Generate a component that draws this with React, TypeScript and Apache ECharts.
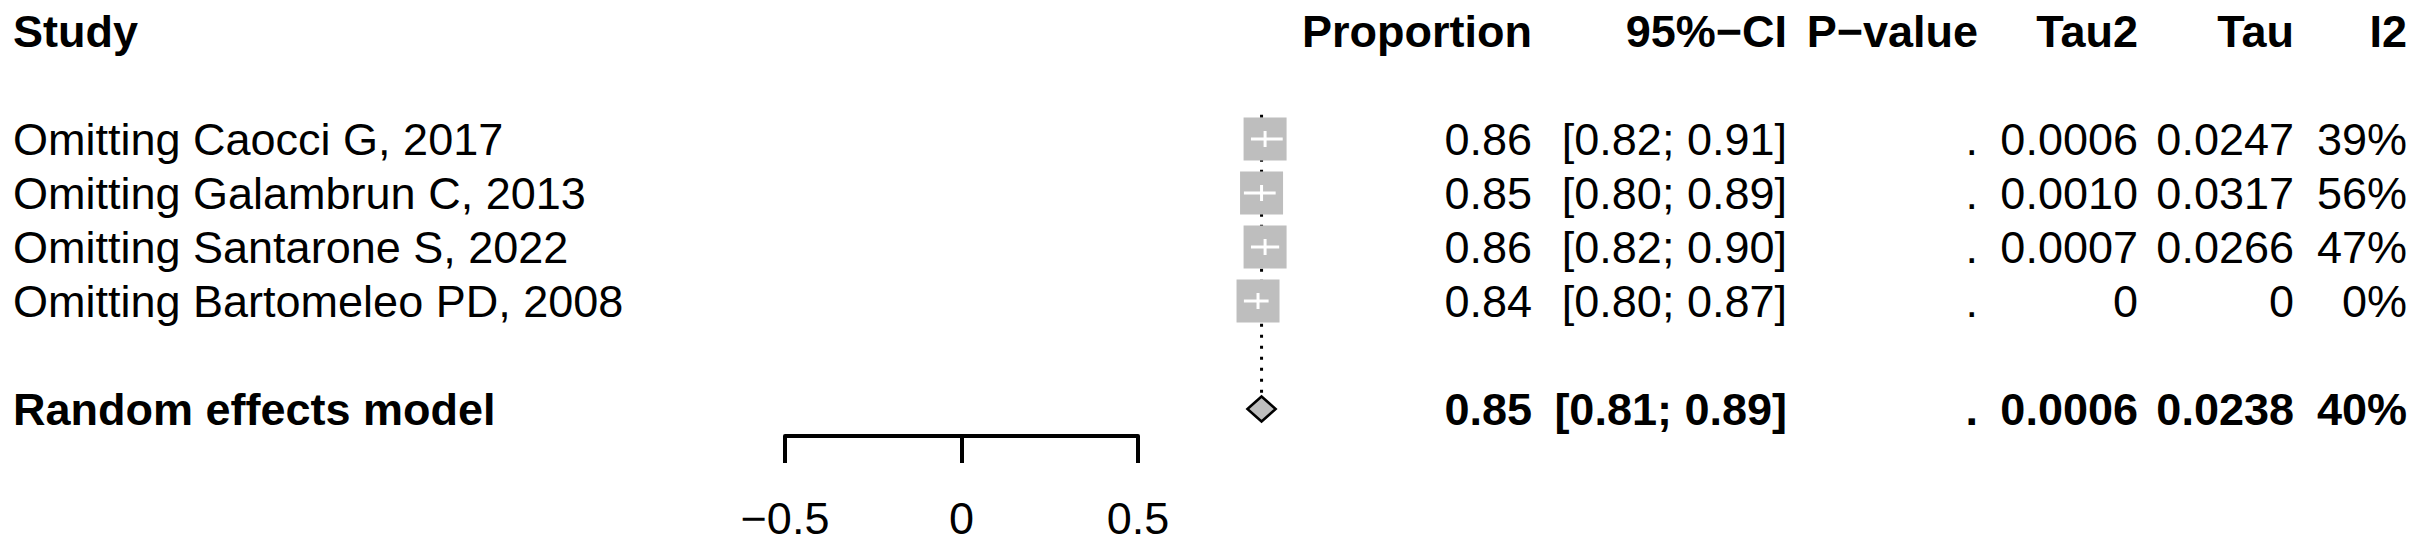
import React, { useEffect, useRef } from "react";
import * as echarts from "echarts";

// ---------- data ----------
const headers = ["Study", "Proportion", "95%−CI", "P−value", "Tau2", "Tau", "I2"];
const studies = [
  "Omitting Caocci G, 2017",
  "Omitting Galambrun C, 2013",
  "Omitting Santarone S, 2022",
  "Omitting Bartomeleo PD, 2008",
];
const proportions = [0.86, 0.85, 0.86, 0.84];
const ciLower = [0.82, 0.8, 0.82, 0.8];
const ciUpper = [0.91, 0.89, 0.9, 0.87];
const pValues = [".", ".", ".", "."];
const tau2Values = ["0.0006", "0.0010", "0.0007", "0"];
const tauValues = ["0.0247", "0.0317", "0.0266", "0"];
const i2Values = ["39%", "56%", "47%", "0%"];

const pooledLabel = "Random effects model";
const pooledEst = 0.85;
const pooledLower = 0.81;
const pooledUpper = 0.89;
const pooledP = ".";
const pooledTau2 = "0.0006";
const pooledTau = "0.0238";
const pooledI2 = "40%";

const xTicks = [-0.5, 0, 0.5];

// row layout (index on the vertical axis)
const headerRow = 0;
const studyRows = [2, 3, 4, 5];
const pooledRow = 7;

// ---------- style / layout ----------
const FONT = "'Liberation Sans', Arial, Helvetica, sans-serif";
const FS = 45;
const BOX_COLOR = "#BEBEBE";
const BOX_SIZE = 43;
// column anchors (pixels) and alignment
const columns = [
  { x: 13, align: "left" },
  { x: 1532, align: "right" },
  { x: 1787, align: "right" },
  { x: 1978, align: "right" },
  { x: 2138, align: "right" },
  { x: 2294, align: "right" },
  { x: 2407, align: "right" },
];

const fmt = (v: number) => v.toFixed(2);
const ciText = (lo: number, hi: number) => `[${fmt(lo)}; ${fmt(hi)}]`;

type TableRow = { row: number; cells: string[]; bold: boolean };
const tableRows: TableRow[] = [
  { row: headerRow, cells: headers, bold: true },
  ...studies.map((s, i) => ({
    row: studyRows[i],
    cells: [s, fmt(proportions[i]), ciText(ciLower[i], ciUpper[i]), pValues[i], tau2Values[i], tauValues[i], i2Values[i]],
    bold: false,
  })),
  {
    row: pooledRow,
    cells: [pooledLabel, fmt(pooledEst), ciText(pooledLower, pooledUpper), pooledP, pooledTau2, pooledTau, pooledI2],
    bold: true,
  },
];

function buildOption() {
  return {
    animation: false,
    backgroundColor: "#ffffff",
    grid: { left: 785, width: 353, top: 31, bottom: 108, containLabel: false },
    xAxis: {
      type: "value",
      min: -0.5,
      max: 0.5,
      interval: 0.5,
      splitLine: { show: false },
      axisLine: { show: true, onZero: false, lineStyle: { color: "#000", width: 4 } },
      axisTick: { show: true, length: 27, lineStyle: { color: "#000", width: 4 } },
      axisLabel: {
        margin: 60,
        fontSize: FS,
        fontFamily: FONT,
        color: "#000",
        customValues: xTicks,
        formatter: (v: number) => (v < 0 ? "−" + Math.abs(v) : String(v)),
      },
    },
    yAxis: {
      type: "value",
      min: 0,
      max: 7.5,
      inverse: true,
      show: false,
    },
    series: [
      // dotted reference line at pooled estimate
      {
        type: "custom",
        clip: false,
        z: 1,
        data: [[pooledEst, studyRows[0] - 0.45, pooledRow]],
        renderItem: (params: any, api: any) => {
          const a = api.coord([api.value(0), api.value(1)]);
          const b = api.coord([api.value(0), api.value(2)]);
          return {
            type: "line",
            shape: { x1: a[0], y1: a[1], x2: b[0], y2: b[1] },
            style: { stroke: "#000", lineWidth: 3, lineDash: [3, 8] },
          };
        },
      },
      // study boxes with CI
      {
        type: "custom",
        clip: false,
        z: 2,
        data: proportions.map((p, i) => [p, studyRows[i], ciLower[i], ciUpper[i]]),
        renderItem: (params: any, api: any) => {
          const c = api.coord([api.value(0), api.value(1)]);
          const lo = api.coord([api.value(2), api.value(1)]);
          const hi = api.coord([api.value(3), api.value(1)]);
          const s = BOX_SIZE;
          return {
            type: "group",
            children: [
              {
                type: "line",
                shape: { x1: lo[0], y1: c[1], x2: hi[0], y2: c[1] },
                style: { stroke: "#000", lineWidth: 3 },
              },
              {
                type: "rect",
                shape: { x: c[0] - s / 2, y: c[1] - s / 2, width: s, height: s },
                style: { fill: BOX_COLOR },
              },
              {
                type: "line",
                shape: {
                  x1: Math.max(lo[0], c[0] - s / 2),
                  y1: c[1],
                  x2: Math.min(hi[0], c[0] + s / 2),
                  y2: c[1],
                },
                style: { stroke: "#fff", lineWidth: 3 },
              },
              {
                type: "line",
                shape: { x1: c[0], y1: c[1] - 8, x2: c[0], y2: c[1] + 8 },
                style: { stroke: "#fff", lineWidth: 3 },
              },
            ],
          };
        },
      },
      // pooled diamond
      {
        type: "custom",
        clip: false,
        z: 3,
        data: [[pooledEst, pooledRow, pooledLower, pooledUpper]],
        renderItem: (params: any, api: any) => {
          const c = api.coord([api.value(0), api.value(1)]);
          const lo = api.coord([api.value(2), api.value(1)]);
          const hi = api.coord([api.value(3), api.value(1)]);
          const h = 12.5;
          return {
            type: "polygon",
            shape: {
              points: [
                [lo[0], c[1]],
                [c[0], c[1] - h],
                [hi[0], c[1]],
                [c[0], c[1] + h],
              ],
            },
            style: { fill: BOX_COLOR, stroke: "#000", lineWidth: 2.5 },
          };
        },
      },
      // table text
      {
        type: "custom",
        clip: false,
        z: 4,
        data: tableRows.map((r) => [0, r.row]),
        renderItem: (params: any, api: any) => {
          const r = tableRows[params.dataIndex];
          const y = api.coord([0, api.value(1)])[1];
          return {
            type: "group",
            children: r.cells.map((t, k) => ({
              type: "text",
              style: {
                text: t,
                x: columns[k].x,
                y,
                align: columns[k].align,
                verticalAlign: "middle",
                fill: "#000",
                fontSize: FS,
                fontFamily: FONT,
                fontWeight: r.bold ? "bold" : "normal",
              },
            })),
          };
        },
      },
    ],
  };
}

export default function App() {
  const ref = useRef<HTMLDivElement>(null);
  useEffect(() => {
    if (!ref.current) return;
    const chart = echarts.init(ref.current, null, { renderer: "svg" });
    chart.setOption(buildOption() as any);
    return () => chart.dispose();
  }, []);
  return (
    <div
      ref={ref}
      style={{ position: "fixed", left: 0, top: 0, width: 2425, height: 544, background: "#fff" }}
    />
  );
}
